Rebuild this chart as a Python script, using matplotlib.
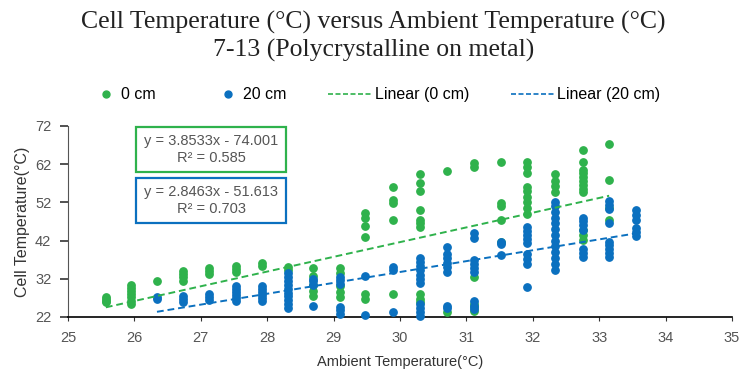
import matplotlib
matplotlib.use("Agg")
import matplotlib.pyplot as plt
import numpy as np
from matplotlib.legend_handler import HandlerLine2D
from matplotlib.lines import Line2D
from matplotlib.patches import Rectangle

# ambient temperature columns and the cell temperatures read in each
cols_0cm = [25.57, 25.95, 26.34, 26.73, 27.13, 27.53, 27.92, 28.32, 28.69, 29.10,
            29.48, 29.90, 30.30, 30.71, 31.11, 31.52, 31.92, 32.33, 32.75, 33.15]
vals_0cm = [
    [25.8, 26.3, 26.8, 27.3],
    [25.5, 26.3, 27.2, 28.0, 28.8, 29.6, 30.4],
    [31.3],
    [31.5, 32.5, 33.3, 34.0],
    [33.2, 34.0, 34.8],
    [33.8, 34.6, 35.4],
    [35.3, 36.2],
    [34.3, 35.2],
    [27.5, 28.8, 30.5, 32.8, 34.8],
    [27.2, 28.5, 30.0, 33.5, 34.8],
    [26.8, 28.0, 43.0, 45.8, 48.0, 49.3],
    [28.0, 47.4, 51.8, 52.6, 56.0],
    [25.8, 26.8, 28.0, 45.5, 46.5, 47.4, 50.0, 55.0, 57.2, 59.5],
    [23.3, 60.2],
    [23.5, 24.5, 25.5, 32.5, 61.2, 62.3],
    [41.6, 47.4, 51.0, 51.8, 62.6],
    [49.0, 50.5, 52.0, 53.5, 55.0, 56.0, 59.8, 61.2, 62.7],
    [54.8, 56.2, 57.6, 59.4],
    [42.2, 43.5, 44.8, 54.6, 55.6, 56.6, 57.6, 58.6, 59.6, 60.6, 62.5, 65.6],
    [47.4, 50.5, 57.9, 67.2],
]

cols_20cm = [26.34, 26.73, 27.13, 27.53, 27.92, 28.32, 28.69, 29.10, 29.48, 29.90,
             30.30, 30.71, 31.11, 31.52, 31.92, 32.33, 32.75, 33.15, 33.56]
vals_20cm = [
    [26.6, 27.3],
    [25.9, 26.7, 27.6],
    [26.5, 27.3, 28.1],
    [26.2, 27.0, 27.8, 28.6, 29.4, 30.2],
    [26.2, 27.0, 27.8, 28.6, 29.4, 30.2],
    [24.4, 25.4, 26.4, 27.4, 28.4, 29.4, 30.4, 31.4, 32.4, 33.4],
    [24.8, 30.3, 31.3, 32.0],
    [22.8, 23.8, 24.6, 30.6, 31.6, 32.5],
    [22.5, 32.6],
    [23.3, 34.4, 35.2],
    [22.3, 23.3, 24.3, 25.3, 30.9, 32.0, 33.1, 34.2, 35.3, 36.4, 37.5],
    [24.3, 25.0, 33.8, 35.0, 36.2, 37.4, 38.6, 40.3],
    [24.0, 25.0, 26.2, 33.8, 34.8, 35.8, 36.8, 42.8, 44.0],
    [38.2, 41.0, 41.6],
    [29.9, 36.0, 37.3, 38.6, 41.4, 42.4, 43.4, 44.4, 45.5],
    [34.4, 36.0, 37.5, 39.0, 40.5, 42.0, 43.5, 45.0, 46.5, 48.0, 49.5, 51.0, 52.2],
    [37.8, 38.8, 39.8, 44.8, 46.0, 47.2, 48.0],
    [37.8, 38.8, 39.8, 40.8, 41.6, 46.6, 50.2, 51.2, 52.4],
    [43.2, 44.2, 45.2, 47.5, 48.8, 50.0],
]

# trendlines as printed on the chart
fit_0cm = (3.8533, -74.001, 0.585)
fit_20cm = (2.8463, -51.613, 0.703)

x_ticks = [25, 26, 27, 28, 29, 30, 31, 32, 33, 34, 35]
y_ticks = [22, 32, 42, 52, 62, 72]

GREEN = "#2fb24c"
BLUE = "#0b70bf"
SANS = ["Liberation Sans", "DejaVu Sans"]


def flatten(cols, vals):
    xs = [c for c, v in zip(cols, vals) for _ in v]
    ys = [y for v in vals for y in v]
    return np.array(xs), np.array(ys)


class DotAtRight(HandlerLine2D):
    # put the legend dot near the text, like Excel does
    def create_artists(self, legend, orig_handle, xdescent, ydescent, width, height, fontsize, trans):
        dot = Line2D([width - xdescent - 0.8 * fontsize], [(height - ydescent) / 2], ls="none")
        self.update_prop(dot, orig_handle, legend)
        dot.set_transform(trans)
        return [dot]


x0, y0 = flatten(cols_0cm, vals_0cm)
x20, y20 = flatten(cols_20cm, vals_20cm)

fig = plt.figure(figsize=(7.39, 3.71), dpi=100)
ax = fig.add_axes([0.092, 0.1456, 0.8985, 0.5148])

ax.scatter(x0, y0, s=28, color=GREEN, zorder=3, clip_on=False)
ax.scatter(x20, y20, s=28, color=BLUE, zorder=4, clip_on=False)

for (m, b, _), xs, col in [(fit_0cm, x0, GREEN), (fit_20cm, x20, BLUE)]:
    xx = np.array([xs.min(), xs.max()])
    ax.plot(xx, m * xx + b, ls=(0, (3.5, 2)), lw=1.4, color=col, zorder=5)

ax.set_xlim(25, 35)
ax.set_ylim(22, 72)
ax.set_xticks(x_ticks)
ax.set_yticks(y_ticks)
for s in ["top", "right"]:
    ax.spines[s].set_visible(False)
ax.spines["left"].set_color("#555555")
ax.spines["bottom"].set_color("black")
ax.spines["bottom"].set_linewidth(1.2)
ax.tick_params(axis="y", length=6, width=1.2, color="#333333", labelsize=10.5,
               labelcolor="#555555", pad=6)
ax.tick_params(axis="x", length=3, color="#333333", labelsize=10.5, labelcolor="#555555", pad=7)
for lab in ax.get_xticklabels() + ax.get_yticklabels():
    lab.set_family(SANS)

ax.set_xlabel("Ambient Temperature(°C)", family=SANS, fontsize=10.5, color="#333333", labelpad=7)
ax.set_ylabel("Cell Temperature(°C)", family=SANS, fontsize=11.5, color="#333333", labelpad=4)

# equation boxes
for (m, b, r2), col, y_lo, y_hi in [(fit_0cm, GREEN, 0.759, 0.995), (fit_20cm, BLUE, 0.492, 0.728)]:
    ax.add_patch(Rectangle((0.103, y_lo), 0.226, y_hi - y_lo, transform=ax.transAxes,
                           fill=True, facecolor="white", edgecolor=col, lw=1.6, zorder=6, clip_on=False))
    ax.text(0.216, (y_lo + y_hi) / 2, f"y = {m}x - {abs(b)}\nR² = {r2}", transform=ax.transAxes,
            ha="center", va="center", family=SANS, fontsize=10.5, color="#555555", zorder=7,
            linespacing=1.35)

fig.text(0.505, 0.94, "Cell Temperature (°C) versus Ambient Temperature (°C)",
         ha="center", va="center", family="Liberation Serif", fontsize=18.5, color="#222222")
fig.text(0.505, 0.865, "7-13 (Polycrystalline on metal)",
         ha="center", va="center", family="Liberation Serif", fontsize=18.5, color="#222222")

handles = [
    Line2D([], [], ls="none", marker="o", ms=5, color=GREEN),
    Line2D([], [], ls="none", marker="o", ms=5, color=BLUE),
    Line2D([], [], ls=(0, (3, 1.5)), lw=1.2, color=GREEN),
    Line2D([], [], ls=(0, (3, 1.5)), lw=1.2, color=BLUE),
]
labels = ["0 cm", "20 cm", "Linear (0 cm)", "Linear (20 cm)"]
fig.legend(handles, labels, loc="center", bbox_to_anchor=(0.497, 0.745), ncol=4, frameon=False,
           prop={"family": SANS, "size": 11.5}, columnspacing=2.6, handlelength=2.75,
           handletextpad=0.15, handler_map={handles[0]: DotAtRight(), handles[1]: DotAtRight()})

fig.savefig("out.png", dpi=100)
